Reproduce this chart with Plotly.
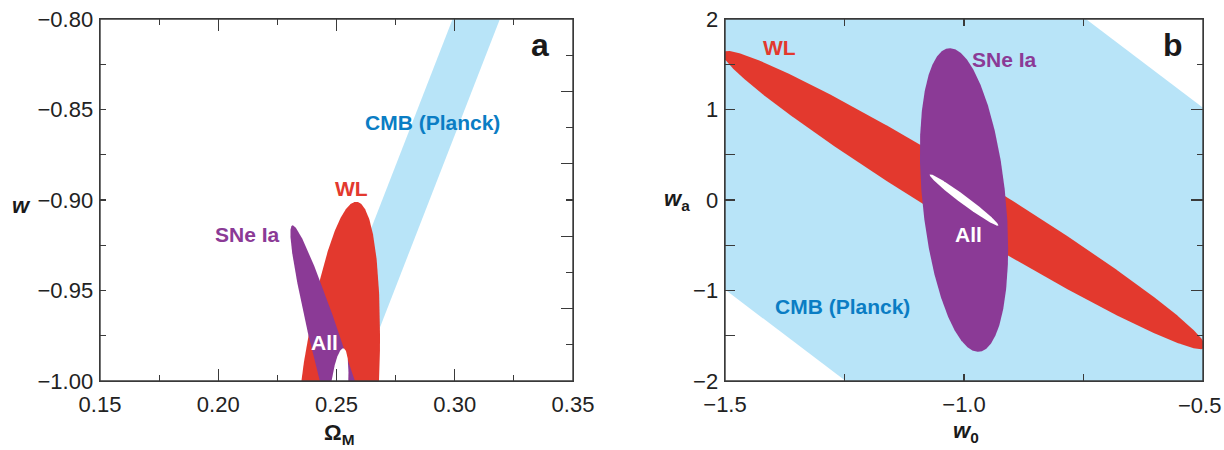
import numpy as np
import plotly.graph_objects as go

# ---------------- data ----------------
# Ellipses given as centre, half-extent in x, half-extent in y, correlation
# Panel a: Omega_M vs w
a_wl = dict(cx=0.2482, cy=-1.049, sx=0.0202, sy=0.148, rho=0.50)
a_sne = dict(cx=0.2752, cy=-1.114, sx=0.0447, sy=0.200, rho=-0.9787)
a_all = dict(cx=0.2509, cy=-1.0069, sx=0.00416, sy=0.025, rho=0.4685)
# CMB band in panel a: edges x at w=-0.80 and slope dw/dOmega
a_cmb_top_x = [0.2991, 0.3191]
a_cmb_slope = 3.36

# Panel b: w0 vs wa
b_wl = dict(cx=-1.0, cy=0.0, sx=0.505, sy=1.648, rho=-0.9805)
b_sne = dict(cx=-1.0, cy=0.0, sx=0.0923, sy=1.678, rho=-0.32)
b_all = dict(cx=-1.0, cy=0.0, sx=0.072, sy=0.285, rho=-0.98)
# CMB band in panel b: wa = c + slope*(w0+1), c between the two values
b_cmb_intercepts = [-2.99, 3.02]
b_cmb_slope = -4.0

a_xrange = [0.15, 0.35]
a_yrange = [-1.00, -0.80]
b_xrange = [-1.5, -0.5]
b_yrange = [-2, 2]
b_xticks = [-1.5, -1.0, -0.5]

RED = "#E3392E"
PURPLE = "#8B3A96"
LBLUE = "#B8E4F8"
BLUE = "#0A7DC4"
AXC = "#3a3a3a"
FONT = "Liberation Sans, Arial, sans-serif"


def ellipse(p, n=721):
    t = np.linspace(0, 2 * np.pi, n)
    x = p["cx"] + p["sx"] * np.cos(t)
    y = p["cy"] + p["sy"] * (p["rho"] * np.cos(t) + np.sqrt(1 - p["rho"] ** 2) * np.sin(t))
    return x, y


fig = go.Figure()


def add_fill(x, y, color, xa, ya):
    fig.add_trace(go.Scatter(x=x, y=y, mode="lines", fill="toself", fillcolor=color,
                             line=dict(width=0, color=color), hoverinfo="skip",
                             showlegend=False, xaxis=xa, yaxis=ya))


# ---- panel a ----
yb = np.array([-0.80, -1.10])
xl = a_cmb_top_x[0] + (yb + 0.80) / a_cmb_slope
xr = a_cmb_top_x[1] + (yb + 0.80) / a_cmb_slope
add_fill([xl[0], xr[0], xr[1], xl[1], xl[0]], [yb[0], yb[0], yb[1], yb[1], yb[0]], LBLUE, "x", "y")
for p, c in [(a_wl, RED), (a_sne, PURPLE), (a_all, "white")]:
    ex, ey = ellipse(p)
    add_fill(ex, ey, c, "x", "y")

# ---- panel b ----
xs = np.array([-2.0, 0.0])
lo = b_cmb_intercepts[0] + b_cmb_slope * (xs + 1)
hi = b_cmb_intercepts[1] + b_cmb_slope * (xs + 1)
add_fill([xs[0], xs[1], xs[1], xs[0], xs[0]], [lo[0], lo[1], hi[1], hi[0], lo[0]], LBLUE, "x2", "y2")
for p, c in [(b_wl, RED), (b_sne, PURPLE), (b_all, "white")]:
    ex, ey = ellipse(p)
    add_fill(ex, ey, c, "x2", "y2")

# dummy traces so the right-side axes are drawn
fig.add_trace(go.Scatter(x=[None], y=[None], xaxis="x", yaxis="y3", showlegend=False))
fig.add_trace(go.Scatter(x=[None], y=[None], xaxis="x2", yaxis="y4", showlegend=False))

# body margin is removed by the post script, so figure pixels == screen pixels
W, H = 1224, 450
ml, mr = 100, W - 1203
mt, mb = 19, H - 381
pw = W - ml - mr
ph = H - mt - mb
dom_a = [0, (573 - ml) / pw]
dom_b = [(725 - ml) / pw, 1]

TICKSIZE = 22
tickfont = dict(family=FONT, size=TICKSIZE, color="#222")
common = dict(showline=True, linecolor=AXC, linewidth=1.4, ticks="inside", tickcolor=AXC,
              tickwidth=1.2, showgrid=False, zeroline=False, tickfont=tickfont, fixedrange=True,
              automargin=False, ticklabeloverflow="allow")

# last tick label of panel b sits at the page edge: draw it right-aligned as an annotation
b_ticktext = [f"{v:.1f}".replace("-", "\u2212") for v in b_xticks]

fig.update_layout(
    width=W, height=H, margin=dict(l=ml, r=mr, t=mt, b=mb, autoexpand=False),
    paper_bgcolor="white", plot_bgcolor="white", showlegend=False,
    xaxis=dict(domain=dom_a, range=a_xrange, anchor="y", tick0=0.15, dtick=0.05, ticklen=12,
               tickformat=".2f", mirror="ticks",
               minor=dict(ticks="inside", dtick=0.025, ticklen=6, tickcolor=AXC, tickwidth=1.2),
               ticklabelstandoff=3, **common),
    yaxis=dict(domain=[0, 1], range=a_yrange, anchor="x", tick0=-1.0, dtick=0.05, ticklen=6,
               tickformat=".2f",
               minor=dict(ticks="inside", dtick=0.025, ticklen=6, tickcolor=AXC, tickwidth=1.2),
               ticklabelstandoff=1, **common),
    yaxis3=dict(overlaying="y", side="right", anchor="x", range=a_yrange, tick0=-0.80, dtick=0.04,
                ticklen=12, showticklabels=False,
                minor=dict(ticks="inside", dtick=0.02, ticklen=7, tickcolor=AXC, tickwidth=1.2),
                **common),
    xaxis2=dict(domain=dom_b, range=b_xrange, anchor="y2", tickmode="array",
                tickvals=b_xticks, ticktext=b_ticktext[:-1] + [""], ticklen=7, mirror="ticks",
                minor=dict(ticks="inside", dtick=0.25, ticklen=7, tickcolor=AXC, tickwidth=1.2),
                ticklabelstandoff=3, **common),
    yaxis2=dict(domain=[0, 1], range=b_yrange, anchor="x2", tick0=-2, dtick=1, ticklen=10,
                minor=dict(ticks="inside", dtick=0.5, ticklen=10, tickcolor=AXC, tickwidth=1.2),
                ticklabelstandoff=1, **common),
    yaxis4=dict(overlaying="y2", side="right", anchor="x2", range=b_yrange, tick0=-2, dtick=1,
                ticklen=12, showticklabels=False,
                minor=dict(ticks="inside", dtick=0.5, ticklen=6, tickcolor=AXC, tickwidth=1.2),
                **common),
)

# full frame around each panel
for xr_, yr_ in [("x domain", "y domain"), ("x2 domain", "y2 domain")]:
    fig.add_shape(type="rect", xref=xr_, yref=yr_, x0=0, x1=1, y0=0, y1=1,
                  line=dict(color=AXC, width=1.4), fillcolor="rgba(0,0,0,0)", layer="above")


def lab(text, x, y, color, size, xref="x", yref="y"):
    fig.add_annotation(text=text, x=x, y=y, xref=xref, yref=yref, showarrow=False,
                       xanchor="center", yanchor="middle",
                       font=dict(family=FONT, size=size, color=color))


# edge tick label of panel b
fig.add_annotation(text=b_ticktext[-1], x=b_xticks[-1], y=0, xref="x2", yref="paper",
                   showarrow=False, xanchor="right", yanchor="middle", xshift=20, yshift=-24,
                   font=tickfont)

# panel a labels
lab("<b>CMB (Planck)</b>", 0.2905, -0.8572, BLUE, 21)
lab("<b>WL</b>", 0.2562, -0.8939, RED, 21)
lab("<b>SNe Ia</b>", 0.2122, -0.9192, PURPLE, 21)
lab("<b>All</b>", 0.2451, -0.9786, "white", 21)
lab("<b>a</b>", 0.3362, -0.8141, "#1a1a1a", 32)
# panel b labels
lab("<b>WL</b>", -1.385, 1.69, RED, 21, "x2", "y2")
lab("<b>SNe Ia</b>", -0.915, 1.558, PURPLE, 21, "x2", "y2")
lab("<b>All</b>", -0.991, -0.385, "white", 21, "x2", "y2")
lab("<b>CMB (Planck)</b>", -1.2546, -1.178, BLUE, 21, "x2", "y2")
lab("<b>b</b>", -0.5624, 1.716, "#1a1a1a", 32, "x2", "y2")


# axis titles (paper coords from screen pixel positions)
def px2paper(px, py):
    return (px - ml) / pw, (H - mb - py) / ph


for txt, (px, py) in [("<b><i>w</i></b>", (21, 205)),
                      ("<b><i>w</i><sub>a</sub></b>", (677, 200)),
                      ("<b>Ω<sub>M</sub></b>", (339, 434)),
                      ("<b><i>w</i><sub>0</sub></b>", (966, 432))]:
    x, y = px2paper(px, py)
    lab(txt, x, y, "#1a1a1a", 22, "paper", "paper")

fig.write_html("out.html",
               config={"displayModeBar": False, "staticPlot": True},
               post_script="document.body.style.margin='0';"
                           "document.body.style.overflow='hidden';"
                           "document.documentElement.style.overflow='hidden';")
